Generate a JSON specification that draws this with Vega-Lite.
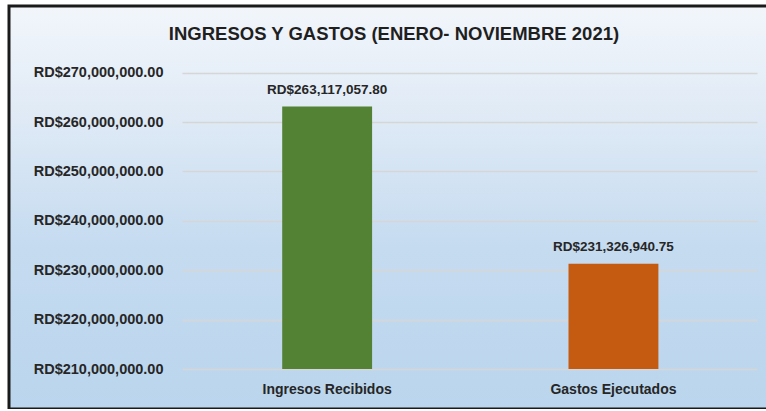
{
  "$schema": "https://vega.github.io/schema/vega-lite/v6.json",
  "width": 800,
  "height": 403,
  "autosize": {"type": "none"},
  "padding": {"left": 9, "top": 6, "right": 0, "bottom": 0},
  "background": "white",
  "title": {
    "text": "INGRESOS Y GASTOS (ENERO- NOVIEMBRE 2021)",
    "anchor": "middle",
    "frame": "group",
    "offset": -52,
    "dx": -15,
    "baseline": "alphabetic",
    "font": "Liberation Sans",
    "fontSize": 18.5,
    "fontWeight": "bold",
    "color": "#1f1f1f"
  },
  "config": {
    "font": "Liberation Sans",
    "locale": {"number": {"decimal": ".", "thousands": ",", "grouping": [3], "currency": ["RD$", ""]}},
    "view": {
      "stroke": "#1a1a1a",
      "strokeWidth": 3,
      "fill": {
        "gradient": "linear",
        "x1": 0, "y1": 0, "x2": 0, "y2": 1,
        "stops": [
          {"offset": 0, "color": "#f2f6fb"},
          {"offset": 0.25, "color": "#e1ebf6"},
          {"offset": 0.6, "color": "#c5dbf0"},
          {"offset": 1, "color": "#bad5ed"}
        ]
      }
    }
  },
  "data": {
    "values": [
      {"categoria": "Ingresos Recibidos", "monto": 263117057.80},
      {"categoria": "Gastos Ejecutados", "monto": 231326940.75}
    ]
  },
  "encoding": {
    "x": {
      "field": "categoria",
      "type": "nominal",
      "sort": null,
      "scale": {"range": [175, 747.6], "paddingInner": 0, "paddingOuter": 0},
      "axis": {
        "orient": "bottom",
        "offset": -16,
        "domain": false,
        "ticks": false,
        "grid": false,
        "labelPadding": 0,
        "labelBaseline": "alphabetic",
        "labelAngle": 0,
        "labelFont": "Liberation Sans",
        "labelFontSize": 14,
        "labelFontWeight": "bold",
        "labelColor": "#262626",
        "title": null
      }
    }
  },
  "layer": [
    {
      "mark": {"type": "bar", "width": {"band": 0.314}},
      "encoding": {
        "y": {
          "field": "monto",
          "type": "quantitative",
          "scale": {"domain": [201903000, 283482000], "nice": false, "zero": false},
          "axis": {
            "orient": "left",
            "offset": -173,
            "values": [210000000, 220000000, 230000000, 240000000, 250000000, 260000000, 270000000],
            "format": "$,.2f",
            "domain": false,
            "grid": false,
            "ticks": true,
            "tickSize": -575,
            "tickColor": "#d6d6d6",
            "tickWidth": 1.5,
            "labelPadding": 594,
            "labelFont": "Liberation Sans",
            "labelFontSize": 14.5,
            "labelFontWeight": "bold",
            "labelColor": "#262626",
            "title": null
          }
        },
        "y2": {"datum": 210000000},
        "color": {
          "field": "categoria",
          "type": "nominal",
          "scale": {"domain": ["Ingresos Recibidos", "Gastos Ejecutados"], "range": ["#548235", "#C55A11"]},
          "legend": null
        }
      }
    },
    {
      "mark": {
        "type": "text",
        "baseline": "alphabetic",
        "dy": -13,
        "font": "Liberation Sans",
        "fontSize": 13.5,
        "fontWeight": "bold",
        "color": "#262626"
      },
      "encoding": {
        "y": {"field": "monto", "type": "quantitative"},
        "text": {"field": "monto", "type": "quantitative", "format": "$,.2f"}
      }
    }
  ]
}
